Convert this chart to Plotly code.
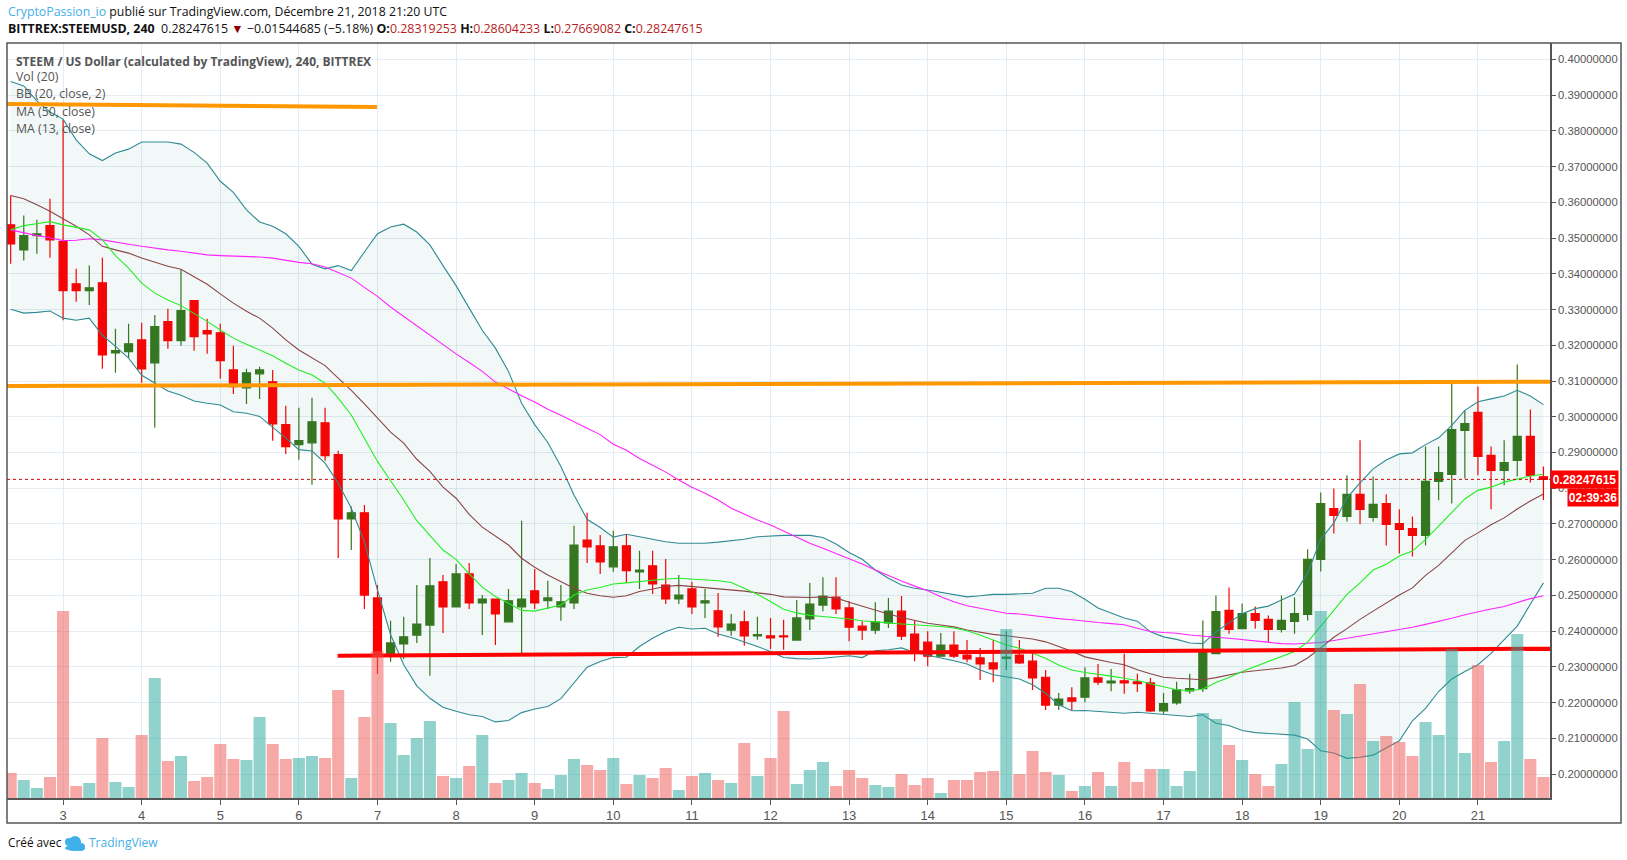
import plotly.graph_objects as go

# open, high, low, close per 4h bar
candles = [
    (.3537, .3619, .3428, .3484), (.3467, .3563, .3437, .3507), (.3507, .3551, .3456, .3512), (.3535, .3610, .3445, .3495),
    (.3490, .3831, .3270, .3353), (.3372, .3414, .3322, .3353), (.3353, .3423, .3313, .3361), (.3375, .3445, .3134, .3173),
    (.3179, .3246, .3123, .3185), (.3182, .3260, .3165, .3204), (.3215, .3263, .3095, .3134), (.3151, .3285, .2969, .3252),
    (.3266, .3302, .3190, .3213), (.3213, .3413, .3199, .3297), (.3325, .3325, .3185, .3224), (.3241, .3274, .3176, .3232),
    (.3235, .3260, .3106, .3157), (.3131, .3199, .3064, .3084), (.3081, .3134, .3036, .3123), (.3120, .3140, .3050, .3131),
    (.3098, .3131, .2933, .2980), (.2978, .3031, .2896, .2916), (.2922, .3025, .2880, .2933), (.2927, .3053, .2810, .2986),
    (.2983, .3025, .2877, .2891), (.2894, .2905, .2605, .2714), (.2714, .2749, .2627, .2731), (.2731, .2753, .2462, .2501),
    (.2493, .2529, .2280, .2329), (.2329, .2429, .2314, .2367), (.2364, .2440, .2322, .2384), (.2389, .2529, .2367, .2420),
    (.2417, .2605, .2275, .2527), (.2538, .2557, .2395, .2468), (.2468, .2588, .2468, .2560), (.2560, .2591, .2462, .2479),
    (.2479, .2501, .2389, .2490), (.2490, .2490, .2361, .2448), (.2426, .2518, .2426, .2485), (.2468, .2709, .2333, .2490),
    (.2513, .2574, .2462, .2479), (.2485, .2541, .2462, .2493), (.2468, .2529, .2429, .2482), (.2479, .2695, .2462, .2641),
    (.2655, .2731, .2591, .2636), (.2639, .2669, .2560, .2594), (.2580, .2681, .2566, .2636), (.2639, .2669, .2535, .2569),
    (.2566, .2625, .2518, .2571), (.2583, .2625, .2504, .2532), (.2529, .2602, .2476, .2490), (.2490, .2557, .2476, .2501),
    (.2518, .2538, .2448, .2468), (.2479, .2518, .2437, .2485), (.2457, .2507, .2384, .2412), (.2403, .2448, .2387, .2420),
    (.2426, .2457, .2359, .2387), (.2387, .2440, .2376, .2390), (.2387, .2437, .2350, .2381), (.2387, .2432, .2348, .2384),
    (.2375, .2487, .2373, .2437), (.2434, .2535, .2403, .2476), (.2473, .2551, .2456, .2498), (.2495, .2551, .2448, .2462),
    (.2465, .2484, .2372, .2411), (.2414, .2428, .2375, .2403), (.2403, .2481, .2392, .2425), (.2423, .2493, .2409, .2456),
    (.2456, .2498, .2375, .2386), (.2392, .2431, .2316, .2341), (.2369, .2400, .2302, .2330), (.2330, .2395, .2330, .2361),
    (.2361, .2400, .2325, .2330), (.2333, .2375, .2313, .2322), (.2325, .2353, .2263, .2308), (.2311, .2375, .2257, .2294),
    (.2324, .2400, .2291, .2327), (.2333, .2375, .2308, .2311), (.2316, .2341, .2235, .2269), (.2271, .2291, .2179, .2193),
    (.2193, .2227, .2179, .2210), (.2213, .2243, .2179, .2204), (.2215, .2299, .2201, .2269), (.2269, .2308, .2249, .2257),
    (.2255, .2294, .2232, .2260), (.2261, .2337, .2225, .2255), (.2258, .2281, .2230, .2253), (.2255, .2269, .2174, .2177),
    (.2177, .2227, .2169, .2197), (.2199, .2258, .2194, .2236), (.2233, .2281, .2225, .2239), (.2239, .2430, .2230, .2344),
    (.2337, .2500, .2337, .2455), (.2458, .2522, .2393, .2405), (.2407, .2477, .2405, .2449), (.2449, .2469, .2407, .2430),
    (.2433, .2444, .2370, .2405), (.2405, .2500, .2396, .2430), (.2427, .2494, .2393, .2449), (.2447, .2629, .2430, .2601),
    (.2601, .2788, .2567, .2757), (.2743, .2799, .2673, .2724), (.2721, .2836, .2707, .2783), (.2783, .2934, .2699, .2741),
    (.2718, .2833, .2707, .2755), (.2757, .2783, .2640, .2699), (.2701, .2741, .2617, .2685), (.2687, .2721, .2609, .2668),
    (.2668, .2917, .2640, .2819), (.2819, .2917, .2766, .2844), (.2839, .3093, .2757, .2964), (.2962, .3018, .2827, .2981),
    (.3012, .3085, .2836, .2889), (.2892, .2917, .2741, .2850), (.2850, .2934, .2808, .2872), (.2878, .3146, .2833, .2945),
    (.2945, .3020, .2816, .2836), (.28319253, .28604233, .27669082, .28247615),
]

# relative height of the volume pane bars
volume = [
    25, 18, 10, 21, 187, 12, 15, 60, 16, 11, 63, 120, 37, 42, 17, 21, 54, 39, 38, 81,
    54, 39, 40, 42, 40, 108, 20, 81, 147, 75, 43, 60, 77, 22, 20, 32, 63, 15, 18, 25,
    15, 9, 23, 39, 33, 28, 40, 14, 23, 20, 30, 8, 22, 25, 18, 15, 55, 22, 40, 87,
    14, 28, 36, 12, 28, 20, 13, 11, 24, 13, 20, 5, 18, 18, 26, 27, 169, 24, 47, 26,
    23, 7, 12, 26, 12, 36, 16, 29, 29, 12, 27, 85, 79, 53, 38, 24, 12, 34, 96, 49,
    187, 88, 84, 114, 57, 62, 56, 42, 76, 63, 149, 45, 133, 36, 57, 164, 39, 21,
]

bb_upper = [
    .3938, .3926, .3884, .3853, .3833, .3775, .3736, .3717, .3738, .3749, .3769, .3769, .3769, .3763, .3740, .3710,
    .3659, .3628, .3579, .3545, .3533, .3512, .3477, .3427, .3414, .3423, .3409, .3461, .3512, .3531, .3539, .3517,
    .3481, .3423, .3367, .3304, .3242, .3192, .3127, .3038, .2978, .2928, .2861, .2781, .2713, .2690, .2663, .2671,
    .2665, .2657, .2650, .2646, .2646, .2646, .2649, .2653, .2657, .2664, .2667, .2668, .2668, .2668, .2662, .2644,
    .2620, .2601, .2571, .2548, .2529, .2520, .2515, .2509, .2502, .2496, .2499, .2503, .2503, .2504, .2506, .2520,
    .2520, .2510, .2489, .2465, .2451, .2437, .2428, .2398, .2384, .2377, .2367, .2365, .2398, .2423, .2449, .2463,
    .2470, .2487, .2504, .2563, .2657, .2703, .2773, .2815, .2854, .2879, .2896, .2899, .2922, .2941, .2976, .3018,
    .3042, .3050, .3058, .3074, .3058, .3034,
]
bb_lower = [
    .3301, .3290, .3292, .3296, .3276, .3270, .3276, .3228, .3197, .3164, .3116, .3094, .3072, .3060, .3044, .3038,
    .3033, .3014, .3010, .3001, .2971, .2940, .2908, .2904, .2870, .2814, .2744, .2650, .2515, .2390, .2306, .2247,
    .2212, .2187, .2176, .2166, .2161, .2146, .2150, .2172, .2182, .2189, .2211, .2254, .2299, .2315, .2326, .2327,
    .2357, .2380, .2399, .2411, .2406, .2408, .2392, .2382, .2370, .2357, .2343, .2326, .2323, .2322, .2324, .2328,
    .2331, .2326, .2345, .2348, .2353, .2340, .2333, .2324, .2317, .2308, .2291, .2278, .2273, .2266, .2250, .2226,
    .2194, .2177, .2178, .2175, .2171, .2170, .2173, .2170, .2166, .2164, .2161, .2166, .2142, .2136, .2122, .2116,
    .2114, .2112, .2109, .2098, .2065, .2059, .2044, .2047, .2053, .2073, .2093, .2149, .2184, .2231, .2266, .2287,
    .2306, .2338, .2375, .2414, .2475, .2535,
]
bb_basis = [
    .3619, .3610, .3593, .3575, .3554, .3533, .3509, .3477, .3467, .3458, .3444, .3432, .3421, .3413, .3393, .3371,
    .3344, .3318, .3295, .3276, .3248, .3215, .3187, .3164, .3143, .3108, .3074, .3036, .2995, .2957, .2926, .2881,
    .2847, .2803, .2772, .2727, .2691, .2665, .2641, .2604, .2579, .2557, .2538, .2520, .2506, .2499, .2495, .2499,
    .2511, .2518, .2525, .2528, .2525, .2520, .2517, .2515, .2512, .2507, .2503, .2496, .2495, .2494, .2496, .2493,
    .2481, .2470, .2457, .2448, .2438, .2429, .2422, .2417, .2412, .2403, .2396, .2391, .2387, .2382, .2378, .2370,
    .2358, .2344, .2328, .2319, .2312, .2306, .2292, .2281, .2271, .2268, .2265, .2264, .2270, .2277, .2285, .2289,
    .2292, .2297, .2304, .2325, .2353, .2383, .2407, .2433, .2456, .2479, .2501, .2521, .2556, .2584, .2619, .2654,
    .2675, .2698, .2717, .2742, .2764, .2784,
]
ma50 = [
    .3523, .3514, .3507, .3501, .3493, .3494, .3498, .3495, .3490, .3483, .3477, .3471, .3467, .3463, .3458, .3453,
    .3451, .3450, .3449, .3447, .3444, .3437, .3432, .3428, .3419, .3404, .3388, .3362, .3337, .3307, .3281, .3255,
    .3227, .3201, .3176, .3152, .3127, .3097, .3077, .3059, .3041, .3021, .3004, .2987, .2968, .2950, .2923, .2906,
    .2883, .2864, .2845, .2823, .2803, .2786, .2767, .2744, .2727, .2711, .2697, .2680, .2663, .2646, .2632, .2618,
    .2604, .2588, .2571, .2555, .2540, .2526, .2513, .2496, .2482, .2471, .2464, .2456, .2450, .2448, .2443, .2438,
    .2435, .2432, .2427, .2424, .2421, .2418, .2408, .2399, .2396, .2394, .2389, .2385, .2383, .2380, .2376, .2373,
    .2368, .2365, .2364, .2365, .2368, .2374, .2380, .2386, .2393, .2398, .2406, .2411, .2419, .2427, .2436, .2446,
    .2455, .2462, .2469, .2480, .2491, .2499,
]
ma13 = [
    .3523, .3535, .3540, .3546, .3537, .3531, .3523, .3495, .3451, .3416, .3374, .3346, .3327, .3311, .3290, .3267,
    .3243, .3220, .3203, .3187, .3171, .3150, .3131, .3117, .3094, .3052, .3005, .2940, .2875, .2821, .2767, .2709,
    .2669, .2627, .2601, .2560, .2523, .2497, .2478, .2458, .2456, .2464, .2473, .2501, .2515, .2522, .2532, .2535,
    .2539, .2543, .2546, .2548, .2546, .2545, .2541, .2536, .2520, .2503, .2483, .2461, .2451, .2444, .2441, .2438,
    .2434, .2429, .2425, .2423, .2420, .2418, .2415, .2413, .2409, .2401, .2389, .2375, .2361, .2352, .2338, .2324,
    .2305, .2291, .2284, .2280, .2274, .2268, .2262, .2253, .2245, .2236, .2233, .2238, .2256, .2270, .2287, .2301,
    .2314, .2329, .2343, .2369, .2414, .2456, .2503, .2535, .2571, .2587, .2610, .2624, .2657, .2694, .2731, .2770,
    .2794, .2803, .2817, .2826, .2834, .2839,
]

# hand drawn trend lines: (x0, x1), (y0, y1), colour
trend_lines = [
    ((-0.28, 27.96), (.3875, .3867), '#ff9800'),
    ((-0.28, 117.5), (.3086, .3098), '#ff9800'),
    ((24.96, 117.5), (.2331, .2351), '#ff0000'),
]

FRAME_LEFT, FRAME_RIGHT = 7, 1550
FRAME_TOP, FRAME_BOTTOM = 43, 798
GREEN, RED = '#38761d', '#ff0000'
TEXT_GREY = '#555555'
BLUE = '#3fb0ea'


def paper_x(px):
    return (px - FRAME_LEFT) / (FRAME_RIGHT - FRAME_LEFT)


def paper_y(px):
    return (FRAME_BOTTOM - px) / (FRAME_BOTTOM - FRAME_TOP)


bars = list(range(len(candles)))
opens = [c[0] for c in candles]
highs = [c[1] for c in candles]
lows = [c[2] for c in candles]
closes = [c[3] for c in candles]
last_close = closes[-1]

fig = go.Figure()
fig.add_trace(go.Scatter(x=bars, y=bb_upper, mode='lines', line=dict(color='#2f8a92', width=1.1)))
fig.add_trace(go.Scatter(x=bars, y=bb_lower, mode='lines', line=dict(color='#2f8a92', width=1.1),
                         fill='tonexty', fillcolor='rgba(0,110,110,0.05)'))
fig.add_trace(go.Candlestick(
    x=bars, open=opens, high=highs, low=lows, close=closes, whiskerwidth=0,
    increasing=dict(line=dict(color=GREEN, width=1.2), fillcolor=GREEN),
    decreasing=dict(line=dict(color=RED, width=1.2), fillcolor=RED),
))
fig.add_trace(go.Scatter(x=bars, y=ma50, mode='lines', line=dict(color='#ff22ff', width=1.1)))
fig.add_trace(go.Scatter(x=bars, y=bb_basis, mode='lines', line=dict(color='#8a4545', width=1.1)))
fig.add_trace(go.Scatter(x=bars, y=ma13, mode='lines', line=dict(color='#22ee22', width=1.1)))
for xs, ys, colour in trend_lines:
    fig.add_trace(go.Scatter(x=xs, y=ys, mode='lines', line=dict(color=colour, width=4)))

volume_colors = ['rgba(38,166,154,0.5)' if c >= o else 'rgba(239,83,80,0.5)' for o, c in zip(opens, closes)]
fig.add_trace(go.Bar(x=bars, y=volume, marker=dict(color=volume_colors, line=dict(width=0)), yaxis='y2'))

fig.update_layout(
    width=1627, height=860,
    margin=dict(l=FRAME_LEFT, r=1627 - FRAME_RIGHT, t=FRAME_TOP, b=860 - FRAME_BOTTOM, pad=0, autoexpand=False),
    paper_bgcolor='white', plot_bgcolor='white',
    showlegend=False, hovermode=False, bargap=0.08, boxgap=0.39, boxgroupgap=0,
    font=dict(family='Liberation Sans, Arial', color=TEXT_GREY),
    xaxis=dict(
        range=[-0.28, 117.5], rangeslider=dict(visible=False),
        tickvals=list(range(4, 113, 6)), ticktext=[str(d) for d in range(3, 22)],
        tickfont=dict(size=13, color=TEXT_GREY), ticks='outside', ticklen=5, tickcolor=TEXT_GREY,
        showgrid=True, gridcolor='#e3ecf2', gridwidth=1.2, zeroline=False,
        showline=True, linecolor=TEXT_GREY, linewidth=1.5,
    ),
    yaxis=dict(
        range=[.1933, .4046], side='right', dtick=.01, tick0=0, tickformat='.8f',
        tickfont=dict(size=11.3, color=TEXT_GREY), ticks='outside', ticklen=4, tickcolor=TEXT_GREY,
        showgrid=True, gridcolor='#e3ecf2', gridwidth=1.2, zeroline=False,
        showline=True, linecolor=TEXT_GREY, linewidth=1.5,
    ),
    yaxis2=dict(range=[0, 755], overlaying='y', side='right', visible=False, fixedrange=True),
)

# outer frame, last price line and the TradingView cloud
fig.add_shape(type='rect', xref='paper', yref='paper', x0=0, x1=paper_x(1621), y0=paper_y(823), y1=1,
              line=dict(color=TEXT_GREY, width=1.5))
fig.add_shape(type='line', xref='paper', yref='y', x0=0, x1=1, y0=last_close, y1=last_close,
              line=dict(color='#d00000', width=1, dash='dot'))
cloud = [(65, 846, 73, 838), (69, 848, 81, 836), (77, 843, 85, 851), (65, 845, 85, 851)]
for x0, y0, x1, y1 in cloud:
    fig.add_shape(type='circle', xref='paper', yref='paper', x0=paper_x(x0), x1=paper_x(x1),
                  y0=paper_y(y0), y1=paper_y(y1), fillcolor=BLUE, line=dict(width=0))


def add_text(px, py, text, size=12.3, color=TEXT_GREY, family='Open Sans'):
    fig.add_annotation(xref='paper', yref='paper', x=paper_x(px), y=paper_y(py), text=text,
                       showarrow=False, xanchor='left', yanchor='middle',
                       font=dict(size=size, color=color, family=family))


add_text(6, 12, '<span style="color:%s">CryptoPassion_io</span> publié sur TradingView.com, Décembre 21, 2018 21:20 UTC' % BLUE,
         color='#111111')
add_text(6, 29, '<b>BITTREX:STEEMUSD, 240</b>  0.28247615 <span style="color:#8b0000">▼</span> −0.01544685 (−5.18%) '
                '<b>O:</b><span style="color:#b71c1c">0.28319253</span> <b>H:</b><span style="color:#b71c1c">0.28604233</span> '
                '<b>L:</b><span style="color:#b71c1c">0.27669082</span> <b>C:</b><span style="color:#b71c1c">0.28247615</span>',
         size=12.4, color='#111111')
add_text(14, 61, '<b>STEEM / US Dollar (calculated by TradingView), 240, BITTREX</b>', size=12)
for i, label in enumerate(['Vol (20)', 'BB (20, close, 2)', 'MA (50, close)', 'MA (13, close)']):
    add_text(14, 77 + 17 * i, label)
add_text(6, 842, 'Créé avec', size=11.8, color='#111111')
add_text(87, 842, 'TradingView', size=12, color=BLUE)

# price tag and countdown next to the axis
fig.add_annotation(xref='paper', yref='y', x=paper_x(1550), y=last_close, xanchor='left', yanchor='middle',
                   text='<b>0.28247615</b>', showarrow=False, bgcolor='#ff0000', width=67, height=17,
                   font=dict(size=12, color='white', family='Liberation Sans, Arial'), borderpad=0)
fig.add_annotation(xref='paper', yref='y', x=paper_x(1567), y=last_close, yshift=-18, xanchor='left', yanchor='middle',
                   text='<b>02:39:36</b>', showarrow=False, bgcolor='#ff0000', width=50, height=17,
                   font=dict(size=12, color='white', family='Liberation Sans, Arial'), borderpad=0)

fig.write_html("out.html", config=dict(displayModeBar=False), post_script="document.body.style.margin='0';")
